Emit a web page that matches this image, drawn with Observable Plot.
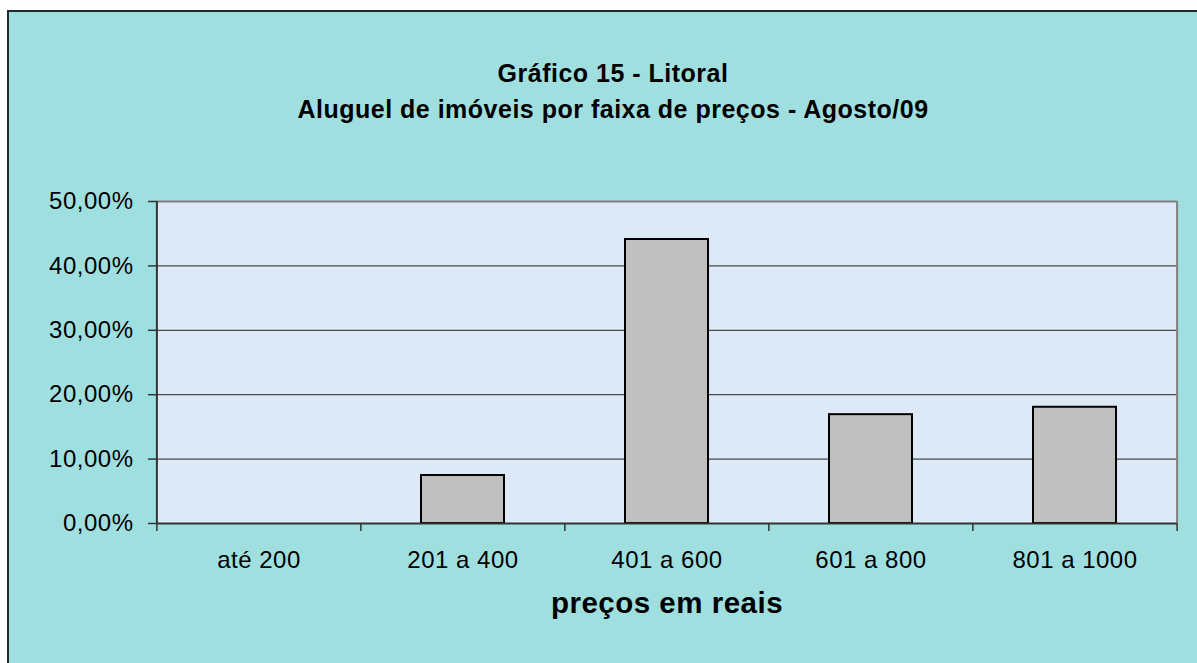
<!DOCTYPE html>
<html>
<head>
<meta charset="utf-8">
<script src="https://cdn.jsdelivr.net/npm/d3@7"></script>
<script src="https://cdn.jsdelivr.net/npm/@observablehq/plot@0.6"></script>
<style>
  html, body { margin: 0; padding: 0; background: #ffffff; width: 1197px; height: 663px; overflow: hidden; }
  #frame { position: absolute; left: 7px; top: 10px; width: 1300px; height: 800px;
           background: #a0dfe0; border-left: 2px solid #1f2a2a; border-top: 2px solid #1f2a2a; }
  #chart { position: absolute; left: 0; top: 0; }
</style>
</head>
<body>
<div id="frame"></div>
<div id="chart"></div>
<script>
// Data
const categories = ["até 200", "201 a 400", "401 a 600", "601 a 800", "801 a 1000"];
const shares = [0, 0.0745, 0.441, 0.169, 0.1805];
const yTicks = [0, 0.1, 0.2, 0.3, 0.4, 0.5];
const titleLine1 = "Gráfico 15 - Litoral";
const titleLine2 = "Aluguel de imóveis por faixa de preços - Agosto/09";
const xLabel = "preços em reais";

const data = categories.map((c, i) => ({ faixa: c, valor: shares[i] }));

const W = 1197, H = 663, ML = 156, MR = 20, MT = 201, MB = 140;
const step = (W - ML - MR) / categories.length;
const fmt = d => (d * 100).toFixed(2).replace(".", ",") + "%";

const chart = Plot.plot({
  width: W,
  height: H,
  marginLeft: ML,
  marginRight: MR,
  marginTop: MT,
  marginBottom: MB,
  style: { background: "transparent", fontFamily: "'Liberation Sans', Arial, sans-serif", color: "#000", letterSpacing: "0.5px" },
  x: { type: "band", domain: categories, paddingInner: 0.594, paddingOuter: 0.297, label: null },
  y: { domain: [0, 0.5], ticks: yTicks, label: null },
  marks: [
    Plot.frame({ fill: "#dde9f7", stroke: "none" }),
    Plot.ruleY(yTicks.filter(t => t > 0 && t < 0.5), { stroke: "#4a4a4a", strokeWidth: 1.2 }),
    Plot.ruleY([0.5], { stroke: "#808080", strokeWidth: 2 }),
    Plot.ruleX([categories[categories.length - 1]], { dx: step / 2, stroke: "#808080", strokeWidth: 2 }),
    Plot.barY(data.filter(d => d.valor > 0), { x: "faixa", y: "valor", fill: "#c0c0c0", stroke: "#000", strokeWidth: 2 }),
    Plot.ruleX([categories[0]], { dx: -step / 2, y1: 0, y2: 0.5, stroke: "#333", strokeWidth: 2 }),
    Plot.ruleY([0], { stroke: "#333", strokeWidth: 2 }),
    Plot.ruleX(categories, { y1: 0, y2: 0, insetBottom: -8, dx: -step / 2, stroke: "#333", strokeWidth: 1.5 }),
    Plot.ruleX([categories[categories.length - 1]], { y1: 0, y2: 0, insetBottom: -8, dx: step / 2, stroke: "#333", strokeWidth: 1.5 }),
    Plot.axisY({ ticks: yTicks, tickSize: 8, tickPadding: 15, tickFormat: fmt, fontSize: 24, stroke: "#333", strokeWidth: 1.5, fill: "#000" }),
    Plot.axisX({ tickSize: 0, tickPadding: 27, fontSize: 24, fill: "#000" }),
    Plot.text([titleLine1], { frameAnchor: "top", dx: -54, dy: -137, fontSize: 25, fontWeight: "bold", fill: "#000" }),
    Plot.text([titleLine2], { frameAnchor: "top", dx: -54, dy: -101, fontSize: 25, fontWeight: "bold", fill: "#000" }),
    Plot.text([xLabel], { frameAnchor: "bottom", dy: 89.6, fontSize: 29.5, fontWeight: "bold", fill: "#000", letterSpacing: "0px" })
  ]
});

document.getElementById("chart").appendChild(chart);
</script>
</body>
</html>
